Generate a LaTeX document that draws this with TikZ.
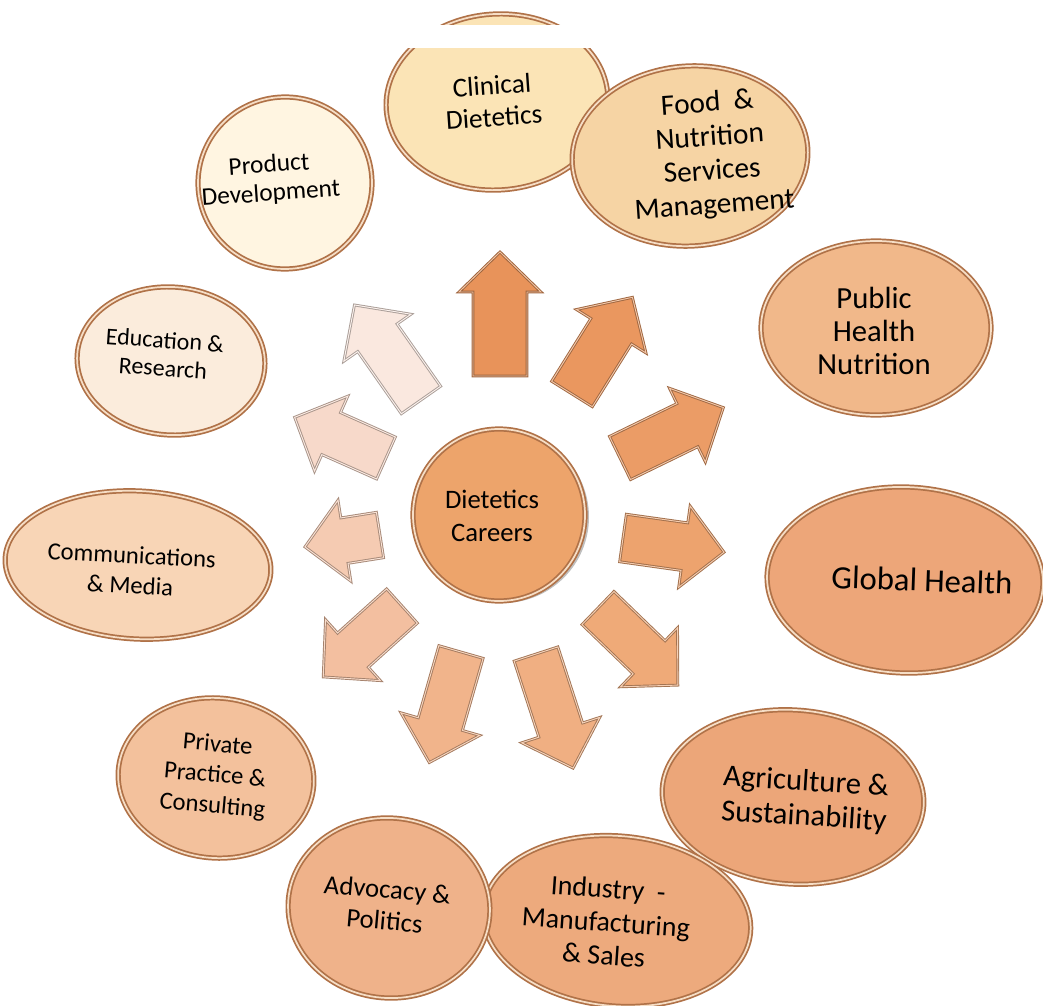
\documentclass[tikz,border=0pt]{standalone}
\usepackage{fontspec}
\setmainfont{Carlito}
\usetikzlibrary{shapes.geometric,shadows}
\definecolor{rimc}{HTML}{B07248}
\definecolor{rimlt}{HTML}{F6DEC6}
\definecolor{cClin}{HTML}{FBE4B6}
\definecolor{cFood}{HTML}{F6D4A4}
\definecolor{cProd}{HTML}{FFF5E1}
\definecolor{cEdu}{HTML}{FBECDC}
\definecolor{cComm}{HTML}{F8D5B6}
\definecolor{cPriv}{HTML}{F3C19C}
\definecolor{cAdv}{HTML}{EFB28A}
\definecolor{cInd}{HTML}{EDAA7D}
\definecolor{cAgr}{HTML}{ECA679}
\definecolor{cGlob}{HTML}{EDA679}
\definecolor{cPub}{HTML}{F1B88A}
\definecolor{cCen}{HTML}{EDA46B}
\definecolor{a1}{HTML}{E8935A}
\definecolor{a2}{HTML}{EA975F}
\definecolor{a3}{HTML}{EB9C66}
\definecolor{a4}{HTML}{EDA36E}
\definecolor{a5}{HTML}{EFAA78}
\definecolor{a6}{HTML}{F0AF82}
\definecolor{a7}{HTML}{F1B48B}
\definecolor{a8}{HTML}{F3BFA0}
\definecolor{a9}{HTML}{F5CBB2}
\definecolor{a10}{HTML}{F7D9CA}
\definecolor{a11}{HTML}{FAE8DF}
% #1 name, #2 fill, #3 tail centre, #4 angle, #5 length, #6 half body width
\newcommand\blockarrow[6]{%
  \coordinate (#1) at #3;
  \draw[arr, fill=#2, draw=#2!68!black, double=#2!55!white, shift={#3}, rotate=#4]
    (0,-#6) -- ({#5-40},-#6) -- ({#5-40},-41) -- (#5,0) -- ({#5-40},41) -- ({#5-40},#6) -- (0,#6) -- cycle;}
\begin{document}
\begin{tikzpicture}[x=0.75pt,y=-0.75pt,
  bub/.style={ellipse, draw=rimc, line width=1.3pt, double=rimlt, double distance=1.3pt, inner sep=0pt},
  sz/.style 2 args={minimum width=#1*0.75pt, minimum height=#2*0.75pt},
  txt/.style={align=center, text=black, inner sep=0pt},
  arr/.style={line width=0.7pt, double distance=0.7pt, line join=miter}]
\useasboundingbox (0,0) rectangle (1043,1006);

% ---------- outer ellipses ----------
\node[bub, sz={222}{176}, fill=cClin, rotate=4] (clin) at (497,102) {};
\fill[white] (390,25) rectangle (612,48);
\node[txt, rotate=4, font=\fontsize{20.5}{24}\selectfont] (clint) at (493,101) {Clinical\\Dietetics};
\node[bub, sz={236}{180}, fill=cFood, rotate=4] (food) at (690,156) {};
\node[txt, rotate=4, font=\fontsize{22}{25.5}\selectfont] (foodt) at (711,155) {Food\ \ \&\\Nutrition\\Services\\Management};
\node[bub, sz={174}{172}, fill=cProd, rotate=4] (prod) at (285,183) {};
\node[txt, rotate=4, font=\fontsize{19}{21.5}\selectfont] (prodt) at (270,180) {Product\\Development};
\node[bub, sz={188}{148}, fill=cEdu, rotate=-4] (edu) at (171,361) {};
\node[txt, rotate=-4, font=\fontsize{18}{21}\selectfont] (edut) at (164,354) {Education \&\\Research};
\node[bub, sz={266}{148}, fill=cComm, rotate=-3] (comm) at (138,565) {};
\node[txt, rotate=-3, font=\fontsize{18.5}{22.5}\selectfont] (commt) at (131,570) {Communications\\\& Media};
\node[bub, sz={196}{160}, fill=cPriv, rotate=-5] (priv) at (216,778) {};
\node[txt, rotate=-5, font=\fontsize{18.5}{23}\selectfont] (privt) at (215,776) {Private\\Practice \&\\Consulting};
\node[bub, sz={262}{174}, fill=cAgr, rotate=-4] (agr) at (793,797) {};
\node[txt, rotate=-3.5, font=\fontsize{23}{26}\selectfont] (agrt) at (805,800) {Agriculture \&\\Sustainability};
\node[bub, sz={268}{170}, fill=cInd, rotate=-5] (ind) at (617,921) {};
\node[txt, rotate=-4, font=\fontsize{21}{25}\selectfont] (indt) at (606,922) {Industry\ \ -\\Manufacturing\\\& Sales};
\node[bub, sz={202}{180}, fill=cAdv, rotate=-5] (adv) at (389,908) {};
\node[txt, rotate=-5, font=\fontsize{20}{23.5}\selectfont] (advt) at (386,905) {Advocacy \&\\Politics};
\node[bub, sz={276}{186}, fill=cGlob, rotate=-2] (glob) at (905,580) {};
\node[txt, rotate=-2, font=\fontsize{24.5}{28}\selectfont] (globt) at (922,580) {Global Health};
\node[bub, sz={230}{174}, fill=cPub] (pub) at (876,328) {};
\node[txt, font=\fontsize{23}{25}\selectfont] (pubt) at (874,331) {Public\\Health\\Nutrition};

% ---------- centre ----------
\node[bub, circle, minimum size=172*0.75pt, fill=cCen,
      drop shadow={shadow xshift=3pt, shadow yshift=-1.5pt, opacity=0.5}] (cen) at (499,515) {};
\node[txt, font=\fontsize{20}{25}\selectfont] (cent) at (492,516) {Dietetics\\Careers};

% ---------- block arrows ----------
\blockarrow{tClin}{a1}{(500,376)}{90}{124}{27}
\blockarrow{tFood}{a2}{(572,394)}{58}{114}{24}
\blockarrow{tPub}{a3}{(620,458)}{26}{115}{24}
\blockarrow{tGlob}{a4}{(623,538)}{-8}{102}{24}
\blockarrow{tAgr}{a5}{(598,608)}{-44}{111}{23}
\blockarrow{tInd}{a6}{(536,654)}{-72}{120}{23}
\blockarrow{tAdv}{a7}{(461,652)}{-106}{115}{23}
\blockarrow{tPriv}{a8}{(402,606)}{-138}{106}{23}
\blockarrow{tComm}{a9}{(380,535)}{189}{76}{23}
\blockarrow{tEdu}{a10}{(386,458)}{156}{100}{23}
\blockarrow{tProd}{a11}{(421,400)}{125}{116}{24}
\end{tikzpicture}
\end{document}
